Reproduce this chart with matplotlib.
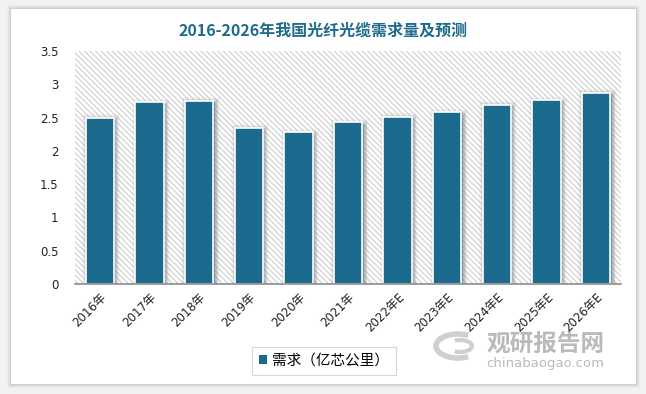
import matplotlib
matplotlib.use("Agg")
import matplotlib.pyplot as plt
import matplotlib.patches as mpatches
import matplotlib.patheffects as pe

categories = ["2016年", "2017年", "2018年", "2019年", "2020年", "2021年",
              "2022年E", "2023年E", "2024年E", "2025年E", "2026年E"]
demand = [2.50, 2.73, 2.75, 2.35, 2.28, 2.43, 2.51, 2.58, 2.69, 2.76, 2.87]
yticks = [0, 0.5, 1, 1.5, 2, 2.5, 3, 3.5]
ytick_labels = ["0", "0.5", "1", "1.5", "2", "2.5", "3", "3.5"]
title = "2016-2026年我国光纤光缆需求量及预测"
legend_label = "需求（亿芯公里）"

plt.rcParams['font.family'] = ['DejaVu Sans', 'Noto Sans CJK SC']
plt.rcParams['hatch.linewidth'] = 0.8
plt.rcParams['hatch.color'] = '#cfcfcf'

W, H = 646, 394
fig = plt.figure(figsize=(W / 100, H / 100), dpi=100)
fig.patch.set_facecolor('#f2f2f2')

def fx(px):
    return px / W

def fy(py):
    return 1 - py / H

# card shadow + card
for i, a in enumerate([0.05, 0.07, 0.09, 0.12]):
    g = 4 - i
    fig.add_artist(mpatches.Rectangle((fx(11 - g), fy(384 + g)), fx(625 + 2 * g), (375 + 2 * g) / H,
                                      transform=fig.transFigure, facecolor='#808080',
                                      edgecolor='none', alpha=a, zorder=0))
fig.add_artist(mpatches.Rectangle((fx(11), fy(384)), fx(625), 375 / H,
                                  transform=fig.transFigure, facecolor='white',
                                  edgecolor='none', zorder=0.5))

ax = fig.add_axes([75 / W, 1 - 284 / H, (621 - 75) / W, (284 - 51) / H])
ax.set_zorder(2)
ax.set_facecolor('white')
ax.add_patch(mpatches.Rectangle((0, 0), 1, 1, transform=ax.transAxes,
                                facecolor='white', hatch='\\' * 6, edgecolor='#cfcfcf',
                                linewidth=0, zorder=0))

x = list(range(len(categories)))
bars = ax.bar(x, demand, width=0.57, color='#1c6b8f', edgecolor='white', linewidth=1.2,
              zorder=3, label=legend_label)
for b in bars:
    b.set_path_effects([
        pe.Stroke(linewidth=7, foreground='#9a9a9a', alpha=0.10, offset=(1, -1)),
        pe.Stroke(linewidth=4.5, foreground='#8a8a8a', alpha=0.18, offset=(1, -1)),
        pe.Stroke(linewidth=2.5, foreground='#7a7a7a', alpha=0.25, offset=(1, -1)),
        pe.Normal()])

ax.set_xlim(-0.5, len(categories) - 0.5)
ax.set_ylim(0, 3.5)
ax.set_yticks(yticks)
ax.set_yticklabels(ytick_labels, fontsize=8.5, color='#222222')
ax.set_xticks(x)
ax.set_xticklabels(categories, rotation=45, ha='right', rotation_mode='anchor',
                   fontsize=8.5, color='#222222')
ax.tick_params(axis='both', length=0)
ax.tick_params(axis='y', pad=12)
ax.tick_params(axis='x', pad=5)
for s in ['top', 'right', 'left']:
    ax.spines[s].set_visible(False)
ax.spines['bottom'].set_color('#8c8c8c')
ax.spines['bottom'].set_linewidth(1.2)
ax.spines['bottom'].set_zorder(4)

fig.text(0.5, fy(31), title, ha='center', va='center', fontsize=11.5, fontweight='bold',
         color='#1f6b8e', family=['Noto Sans CJK SC'], zorder=5)

leg = fig.legend(handles=[mpatches.Patch(facecolor='#1c6b8f', edgecolor='none', label=legend_label)],
                 loc='center', bbox_to_anchor=(fx(324), fy(361)), frameon=True, fancybox=False,
                 prop={'family': ['Noto Sans CJK SC'], 'size': 10.5}, handlelength=0.55,
                 handleheight=0.55, handletextpad=0.35, borderpad=0.5, borderaxespad=0)
leg.get_frame().set_edgecolor('#cccccc')
leg.get_frame().set_linewidth(0.8)
leg.set_zorder(5)

# watermark
fig.text(fx(546), fy(344), "观研报告网", ha='center', va='center', fontsize=17, fontweight='bold',
         color='#8c8c8c', alpha=0.6, family=['Noto Sans CJK SC'], zorder=10)
fig.text(fx(545), fy(364), "chinabaogao.com", ha='center', va='center', fontsize=9.5,
         color='#8c8c8c', alpha=0.6, zorder=10)
fig.add_artist(mpatches.Arc((fx(458), fy(346)), 44 / W, 24 / H, theta1=60, theta2=300,
                            transform=fig.transFigure, edgecolor='#a0a0a0', linewidth=4,
                            alpha=0.5, zorder=10))
fig.add_artist(mpatches.Arc((fx(460), fy(346)), 24 / W, 12 / H, theta1=240, theta2=120,
                            transform=fig.transFigure, edgecolor='#a0a0a0', linewidth=3,
                            alpha=0.5, zorder=10))

fig.savefig('out.png', dpi=100, facecolor=fig.get_facecolor())
